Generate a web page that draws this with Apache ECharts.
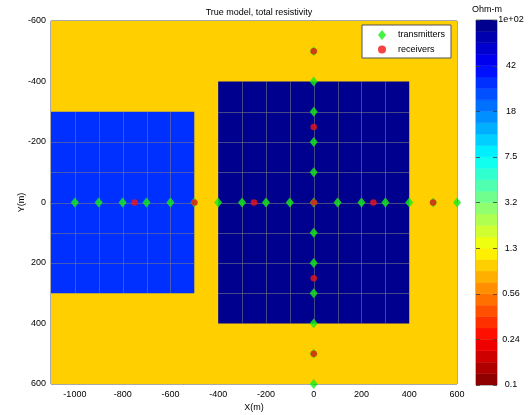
<!DOCTYPE html>
<html><head><meta charset="utf-8">
<script src="https://cdn.jsdelivr.net/npm/echarts@6/dist/echarts.min.js"></script>
<style>html,body{margin:0;padding:0;background:#fff}#c{width:531px;height:415px}</style>
</head><body><div id="c"></div><script>
const FONT = 'Liberation Sans, Arial, Helvetica, sans-serif';
const titleText = 'True model, total resistivity';
const xAxisName = 'X(m)';
const yAxisName = 'Y(m)';
const cbUnit = 'Ohm-m';
const xTickValues = [-1000, -800, -600, -400, -200, 0, 200, 400, 600];
const yTickValues = [-600, -400, -200, 0, 200, 400, 600];

// resistivity model regions (background, left block, right block)
const regionXMin = [-1100, -1100, -400];
const regionXMax = [600, -500, 400];
const regionYMin = [-600, -300, -400];
const regionYMax = [600, 300, 400];
const regionRho = [1.0, 30, 100];
const regionMeshed = [0, 1, 1];
const meshStep = 100;

// transmitters
const txX = [-1000, -900, -800, -700, -600, -500, -400, -300, -200, -100, 0, 100, 200, 300, 400, 500, 600,
             0, 0, 0, 0, 0, 0, 0, 0, 0, 0, 0];
const txY = [0, 0, 0, 0, 0, 0, 0, 0, 0, 0, 0, 0, 0, 0, 0, 0, 0,
             -500, -400, -300, -200, -100, 100, 200, 300, 400, 500, 600];
// receivers
const rxX = [-750, -500, -250, 0, 250, 500, 0, 0, 0, 0];
const rxY = [0, 0, 0, 0, 0, 0, -500, -250, 250, 500];

// colorbar
const cbTickLabels = ['0.1', '0.24', '0.56', '1.3', '3.2', '7.5', '18', '42', '1e+02'];
const cbLogMin = -1, cbLogMax = 2, cbLevels = 32;

function clamp01(v){ return Math.max(0, Math.min(1, v)); }
function jet(t){
  const r = clamp01(1.5 - Math.abs(4*t - 3));
  const g = clamp01(1.5 - Math.abs(4*t - 2));
  const b = clamp01(1.5 - Math.abs(4*t - 1));
  return 'rgb(' + Math.round(r*255) + ',' + Math.round(g*255) + ',' + Math.round(b*255) + ')';
}
function levelColor(j){ return jet(1 - (j + 0.5) / cbLevels); }
function rhoColor(rho){
  let j = Math.floor((Math.log10(rho) - cbLogMin) / (cbLogMax - cbLogMin) * cbLevels);
  j = Math.max(0, Math.min(cbLevels - 1, j));
  return levelColor(j);
}

const regionData = regionRho.map((r, i) => [regionXMin[i], regionXMax[i], regionYMin[i], regionYMax[i], r, regionMeshed[i]]);
const txData = txX.map((x, i) => [x, txY[i]]);
const rxData = rxX.map((x, i) => [x, rxY[i]]);
const cbStep = (cbLogMax - cbLogMin) / cbLevels;
const cbData = [];
for (let j = 0; j < cbLevels; j++) cbData.push([cbLogMin + j*cbStep, cbLogMin + (j+1)*cbStep, j]);
const cbTickPos = cbTickLabels.map((_, k) => cbLogMin + k * (cbLogMax - cbLogMin) / (cbTickLabels.length - 1));

const chart = echarts.init(document.getElementById('c'), null, {renderer: 'canvas'});
const axisCol = '#444';
chart.setOption({
  animation: false,
  backgroundColor: '#fff',
  textStyle: {fontFamily: FONT},
  title: {
    text: titleText, left: 254, top: 3, textAlign: 'center',
    textStyle: {fontSize: 9, fontWeight: 'normal', color: '#000', fontFamily: FONT}
  },
  legend: {
    data: [
      {name: 'transmitters', icon: 'diamond'},
      {name: 'receivers', icon: 'circle'}
    ],
    orient: 'vertical', left: 362, top: 25,
    backgroundColor: '#fff', borderColor: '#555', borderWidth: 1,
    padding: [5, 6, 4, 16], itemGap: 5, itemWidth: 8, itemHeight: 10,
    textStyle: {fontSize: 9, color: '#000', fontFamily: FONT, padding: [0, 0, 0, 7]}
  },
  graphic: [{
    type: 'text', left: 472, top: 5,
    style: {text: cbUnit, fontSize: 9, fill: '#000', fontFamily: FONT}
  }],
  grid: [
    {left: 51, top: 21, width: 406, height: 363, show: true, borderColor: '#555', borderWidth: 1,
     backgroundColor: 'transparent', outerBoundsMode: 'none', containLabel: false},
    {left: 476, top: 20, width: 21, height: 365, show: true, borderColor: '#777', borderWidth: 1,
     backgroundColor: 'transparent', outerBoundsMode: 'none', containLabel: false}
  ],
  xAxis: [
    {
      gridIndex: 0, type: 'value', min: -1100, max: 600,
      name: xAxisName, nameLocation: 'middle', nameGap: 19, nameMoveOverlap: false,
      nameTextStyle: {fontSize: 9, color: '#000', fontFamily: FONT},
      axisLine: {show: true, lineStyle: {color: '#555'}},
      axisTick: {show: true, inside: true, length: 3, customValues: xTickValues, lineStyle: {color: axisCol}},
      axisLabel: {customValues: xTickValues, fontSize: 9, color: '#000', margin: 6, fontFamily: FONT,
        formatter: function(v){ return String(v); }},
      splitLine: {show: false}
    },
    {gridIndex: 1, type: 'value', min: 0, max: 1, show: false}
  ],
  yAxis: [
    {
      gridIndex: 0, type: 'value', min: -600, max: 600, interval: 200, inverse: true,
      name: yAxisName, nameLocation: 'middle', nameGap: 25, nameRotate: 90, nameMoveOverlap: false,
      nameTextStyle: {fontSize: 9, color: '#000', fontFamily: FONT},
      axisLine: {show: true, lineStyle: {color: '#555'}},
      axisTick: {show: true, inside: true, length: 3, lineStyle: {color: axisCol}},
      axisLabel: {fontSize: 9, color: '#000', margin: 5, fontFamily: FONT,
        formatter: function(v){ return String(v); }},
      splitLine: {show: false}
    },
    {
      gridIndex: 1, type: 'value', min: cbLogMin, max: cbLogMax, position: 'right',
      axisLine: {show: false},
      axisTick: {show: false},
      axisLabel: {
        customValues: cbTickPos, fontSize: 9, color: '#000', margin: 14, align: 'center', fontFamily: FONT,
        formatter: function(v){
          const k = Math.round((v - cbLogMin) / (cbLogMax - cbLogMin) * (cbTickLabels.length - 1));
          return cbTickLabels[k];
        }
      },
      splitLine: {show: false}
    }
  ],
  series: [
    {
      type: 'custom', name: 'model', xAxisIndex: 0, yAxisIndex: 0, clip: true, z: 1,
      data: regionData, silent: true,
      renderItem: function(params, api){
        const x0 = api.value(0), x1 = api.value(1), y0 = api.value(2), y1 = api.value(3);
        const rho = api.value(4), meshed = api.value(5);
        const a = api.coord([x0, y0]), b = api.coord([x1, y1]);
        const left = Math.min(a[0], b[0]), right = Math.max(a[0], b[0]);
        const top = Math.min(a[1], b[1]), bottom = Math.max(a[1], b[1]);
        const children = [{
          type: 'rect', shape: {x: left, y: top, width: right - left, height: bottom - top},
          style: {fill: rhoColor(rho)}
        }];
        if (meshed) {
          const ls = {stroke: 'rgba(128,128,128,0.55)', lineWidth: 1};
          for (let x = x0 + meshStep; x < x1 - 1e-6; x += meshStep) {
            const px = Math.round(api.coord([x, y0])[0]) + 0.5;
            children.push({type: 'line', shape: {x1: px, y1: top, x2: px, y2: bottom}, style: ls});
          }
          for (let y = y0 + meshStep; y < y1 - 1e-6; y += meshStep) {
            const py = Math.round(api.coord([x0, y])[1]) + 0.5;
            children.push({type: 'line', shape: {x1: left, y1: py, x2: right, y2: py}, style: ls});
          }
        }
        return {type: 'group', children: children};
      }
    },
    {
      type: 'scatter', name: 'transmitters', xAxisIndex: 0, yAxisIndex: 0, data: txData,
      symbol: 'diamond', symbolSize: [8, 10], clip: false, z: 3,
      itemStyle: {color: '#14f014'}
    },
    {
      type: 'scatter', name: 'receivers', xAxisIndex: 0, yAxisIndex: 0, data: rxData,
      symbol: 'circle', symbolSize: 6.5, clip: false, z: 4,
      itemStyle: {color: '#f01414'}
    },
    {
      type: 'custom', name: 'colorbar', xAxisIndex: 1, yAxisIndex: 1, clip: true, silent: true,
      data: cbData,
      renderItem: function(params, api){
        const a = api.coord([0, api.value(0)]), b = api.coord([1, api.value(1)]);
        return {
          type: 'rect',
          shape: {x: a[0], y: Math.min(a[1], b[1]), width: b[0] - a[0], height: Math.abs(a[1] - b[1])},
          style: {fill: levelColor(api.value(2)), stroke: levelColor(api.value(2)), lineWidth: 0.5}
        };
      }
    },
    {
      type: 'custom', name: 'colorbarTicks', xAxisIndex: 1, yAxisIndex: 1, clip: false, silent: true, z: 5,
      data: cbTickPos.map(v => [v]),
      renderItem: function(params, api){
        const l = api.coord([0, api.value(0)]), r = api.coord([1, api.value(0)]);
        const y = Math.round(l[1]) + 0.5;
        const ls = {stroke: 'rgba(60,60,60,0.8)', lineWidth: 1};
        return {type: 'group', children: [
          {type: 'line', shape: {x1: l[0], y1: y, x2: l[0] + 4, y2: y}, style: ls},
          {type: 'line', shape: {x1: r[0] - 4, y1: y, x2: r[0], y2: y}, style: ls}
        ]};
      }
    }
  ]
});
</script></body></html>
